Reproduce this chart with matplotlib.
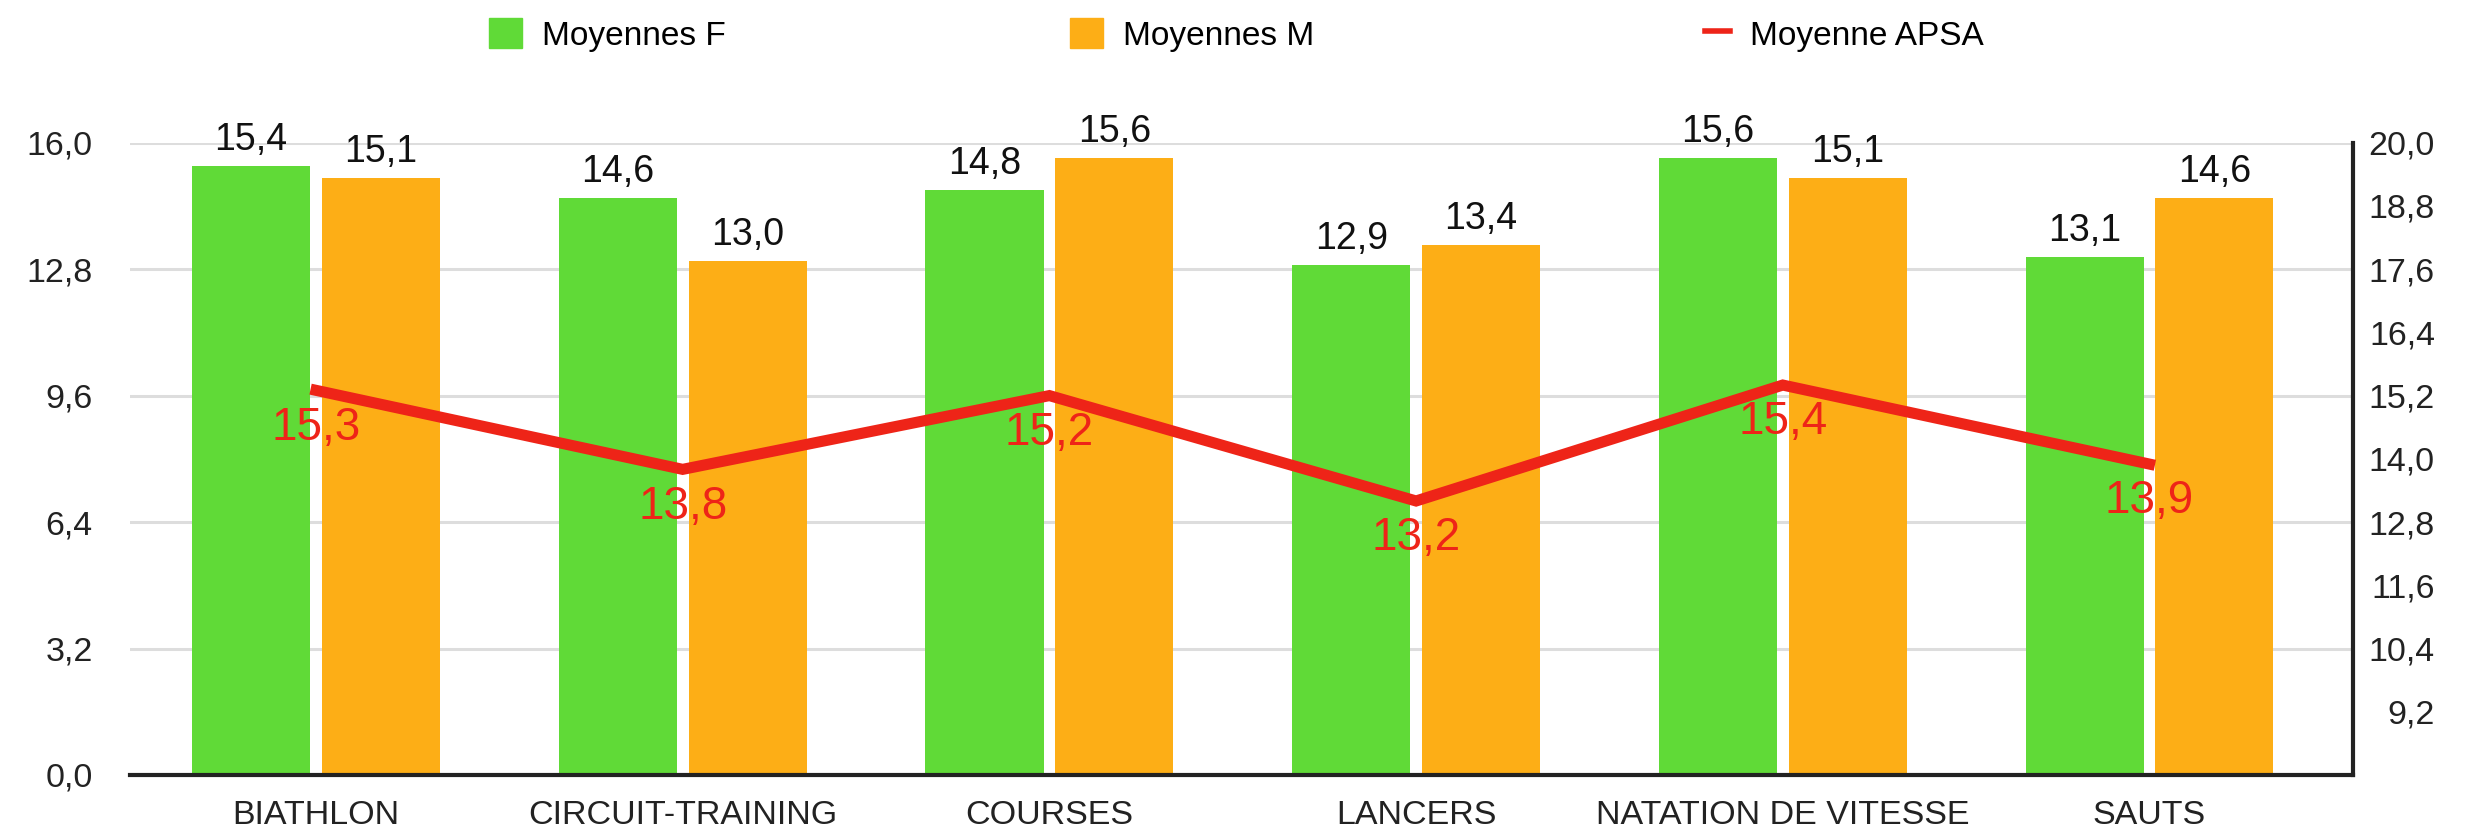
import matplotlib

matplotlib.use("Agg")
import matplotlib.pyplot as plt
import numpy as np
from matplotlib.lines import Line2D
from matplotlib.patches import Patch

plt.rcParams["font.family"] = ["Liberation Sans", "DejaVu Sans"]

# Data
categories = ["BIATHLON", "CIRCUIT-TRAINING", "COURSES", "LANCERS",
              "NATATION DE VITESSE", "SAUTS"]
moyennes_f = [15.4, 14.6, 14.8, 12.9, 15.6, 13.1]
moyennes_m = [15.1, 13.0, 15.6, 13.4, 15.1, 14.6]
moyenne_apsa = [15.3, 13.8, 15.2, 13.2, 15.4, 13.9]
left_ticks = [0.0, 3.2, 6.4, 9.6, 12.8, 16.0]
right_ticks = [9.2, 10.4, 11.6, 12.8, 14.0, 15.2, 16.4, 17.6, 18.8, 20.0]

GREEN = "#60DA37"
ORANGE = "#FDAE16"
RED = "#EE2418"


def fr(v: float) -> str:
    """Format a number with one decimal and a French comma."""
    return f"{v:.1f}".replace(".", ",")


fig = plt.figure(figsize=(24.68, 8.30), dpi=100)
ax = fig.add_axes([0.0527, 0.0663, 0.9534 - 0.0527, 0.8281 - 0.0663])

x = np.arange(len(categories))
width = 0.322
offset = 0.177

bars_f = ax.bar(x - offset, moyennes_f, width, color=GREEN, zorder=2)
bars_m = ax.bar(x + offset, moyennes_m, width, color=ORANGE, zorder=2)
for bars, vals in ((bars_f, moyennes_f), (bars_m, moyennes_m)):
    ax.bar_label(bars, labels=[fr(v) for v in vals], padding=6,
                 fontsize=27, color="#111111")

ax.set_xlim(-0.507, 5.555)
ax.set_ylim(0, 16)
ax.set_yticks(left_ticks)
ax.set_yticklabels([fr(v) for v in left_ticks])
ax.set_xticks(x)
ax.set_xticklabels(categories)
ax.tick_params(axis="y", length=0, pad=27, labelsize=24.5, labelcolor="#222222")
ax.tick_params(axis="x", length=0, pad=18, labelsize=24.5, labelcolor="#222222")
ax.grid(axis="y", color="#dddddd", lw=2.2)
ax.set_axisbelow(True)
for side in ("left", "top", "right"):
    ax.spines[side].set_visible(False)
ax.spines["bottom"].set_color("#222222")
ax.spines["bottom"].set_linewidth(3)

# Secondary axis for the APSA average line
ax2 = ax.twinx()
ax2.plot(x, moyenne_apsa, color=RED, lw=8, solid_joinstyle="miter", zorder=3)
for xi, v in zip(x, moyenne_apsa):
    ax2.annotate(fr(v), (xi, v), xytext=(0, -11), textcoords="offset points",
                 ha="center", va="top", fontsize=33, color=RED)
ax2.set_xlim(-0.507, 5.555)
ax2.set_ylim(8, 20)
ax2.set_yticks(right_ticks)
ax2.set_yticklabels([fr(v) for v in right_ticks])
ax2.tick_params(axis="y", length=0, pad=59, labelsize=24.5, labelcolor="#222222")
plt.setp(ax2.get_yticklabels(), ha="right")
for side in ("left", "top", "bottom"):
    ax2.spines[side].set_visible(False)
ax2.spines["right"].set_color("#222222")
ax2.spines["right"].set_linewidth(3)

# Legend entries laid out along the top, as in the reference
legend_items = [
    (Patch(color=GREEN), "Moyennes F", 489 / 2468, 1.0),
    (Patch(color=ORANGE), "Moyennes M", 1070 / 2468, 1.0),
    (Line2D([], [], color=RED, lw=4), "Moyenne APSA", 1705 / 2468, 0.75),
]
for handle, label, xpos, hlen in legend_items:
    fig.legend([handle], [label], loc="center left",
               bbox_to_anchor=(xpos, 1 - 35 / 830), frameon=False,
               fontsize=24, handlelength=hlen, handleheight=1.0,
               handletextpad=0.6, borderpad=0, borderaxespad=0)

fig.savefig("out.png", dpi=100)
